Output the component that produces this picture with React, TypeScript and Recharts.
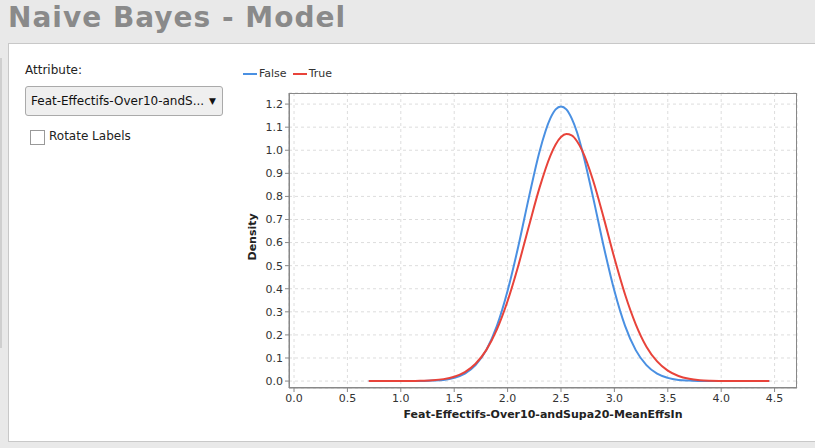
import React from "react";
import { LineChart, Line, XAxis, YAxis, CartesianGrid } from "recharts";

const xs = [0.7,0.8,0.9,1.0,1.1,1.2,1.3,1.4,1.5,1.6,1.7,1.8,1.9,2.0,2.1,2.2,2.3,2.4,2.45,2.5,2.55,2.6,2.65,2.7,2.8,2.9,3.0,3.1,3.2,3.3,3.4,3.5,3.6,3.7,3.8,3.9,4.0,4.1,4.2,4.3,4.4,4.45];
const falseVals = [0,0,0,0,0,0.0007,0.002,0.005,0.014,0.032,0.069,0.134,0.239,0.391,0.583,0.797,0.996,1.138,1.177,1.19,1.177,1.138,1.078,0.996,0.797,0.583,0.391,0.239,0.134,0.069,0.032,0.014,0.005,0.002,0.0007,0,0,0,0,0,0,0];
const trueVals = [0,0,0,0,0,0.0013,0.0034,0.0085,0.019,0.039,0.075,0.134,0.224,0.347,0.5,0.672,0.839,0.976,1.025,1.057,1.07,1.064,1.039,0.997,0.87,0.707,0.533,0.375,0.246,0.149,0.085,0.045,0.022,0.01,0.004,0.0016,0.0006,0,0,0,0,0];
const xTicks = [0,0.5,1,1.5,2,2.5,3,3.5,4,4.5];
const yTicks = [0,0.1,0.2,0.3,0.4,0.5,0.6,0.7,0.8,0.9,1.0,1.1,1.2];

const data = xs.map((x, i) => ({ x, f: falseVals[i], t: trueVals[i] }));
const font = "'Lucida Grande','DejaVu Sans',sans-serif";
const tickStyle = { fontSize: 11, fill: "#333", fontFamily: font };

export default function App() {
  return (
    <div style={{ position: "fixed", left: 0, top: 0, width: 815, height: 448, background: "#e9e9e9", fontFamily: font, overflow: "hidden" }}>
      <div style={{ position: "absolute", left: 8, top: 1, fontSize: 28, fontWeight: "bold", color: "#8a8a8a", letterSpacing: 1 }}>Naive Bayes - Model</div>
      <div style={{ position: "absolute", left: 0, top: 58, width: 2, height: 290, background: "#cfcfcf" }} />
      <div style={{ position: "absolute", left: 8, top: 43, width: 815, height: 397, background: "#fff", border: "1px solid #c8c8c8" }} />
      <div style={{ position: "absolute", left: 25, top: 63, fontSize: 12, color: "#222" }}>Attribute:</div>
      <div style={{ position: "absolute", left: 25, top: 86, width: 198, height: 30, boxSizing: "border-box", border: "1px solid #aaa", borderRadius: 3, background: "#efefef", fontSize: 12, color: "#111", lineHeight: "28px", paddingLeft: 5, whiteSpace: "nowrap" }}>
        Feat-Effectifs-Over10-andS...
        <span style={{ position: "absolute", right: 6, top: 0, fontSize: 9 }}>▼</span>
      </div>
      <div style={{ position: "absolute", left: 30, top: 130, width: 13, height: 13, border: "1px solid #999", background: "#fff" }} />
      <div style={{ position: "absolute", left: 49, top: 129, fontSize: 12, color: "#222" }}>Rotate Labels</div>
      <div style={{ position: "absolute", left: 243, top: 67, fontSize: 11, color: "#333", display: "flex", alignItems: "center" }}>
        <span style={{ display: "inline-block", width: 14, height: 2, background: "#4a90e2", marginRight: 2 }} />False
        <span style={{ display: "inline-block", width: 14, height: 2, background: "#e8433a", margin: "0 2px 0 6px" }} />True
      </div>
      <div style={{ position: "absolute", left: 240, top: 60 }}>
        <LineChart width={570} height={380} data={data} margin={{ top: 33, right: 13, bottom: 0, left: 0 }}>
          <CartesianGrid stroke="#ddd" strokeDasharray="3 3" />
          <XAxis dataKey="x" type="number" domain={[-0.047, 4.71]} ticks={xTicks} allowDataOverflow
            tickFormatter={(v: number) => v.toFixed(1)} tick={tickStyle} tickSize={4} height={52}
            axisLine={{ stroke: "#888" }} tickLine={{ stroke: "#888" }}
            label={{ value: "Feat-Effectifs-Over10-andSupa20-MeanEffsIn", position: "insideTop", offset: 22, style: { fontSize: 11, fontWeight: "bold", fill: "#222", fontFamily: font } }} />
          <YAxis type="number" domain={[-0.03, 1.248]} ticks={yTicks} allowDataOverflow
            tickFormatter={(v: number) => v.toFixed(1)} tick={tickStyle} tickSize={4} width={49}
            axisLine={{ stroke: "#888" }} tickLine={{ stroke: "#888" }}
            label={{ value: "Density", angle: -90, position: "insideLeft", offset: 12, dy: 20, style: { fontSize: 11, fontWeight: "bold", fill: "#222", fontFamily: font } }} />
          <Line dataKey="f" stroke="#4a90e2" strokeWidth={2} dot={false} type="monotone" isAnimationActive={false} />
          <Line dataKey="t" stroke="#e8433a" strokeWidth={2} dot={false} type="monotone" isAnimationActive={false} />
        </LineChart>
      </div>
      <div style={{ position: "absolute", left: 289, top: 93, width: 508, height: 295, boxSizing: "border-box", border: "1px solid #888", pointerEvents: "none" }} />
    </div>
  );
}
